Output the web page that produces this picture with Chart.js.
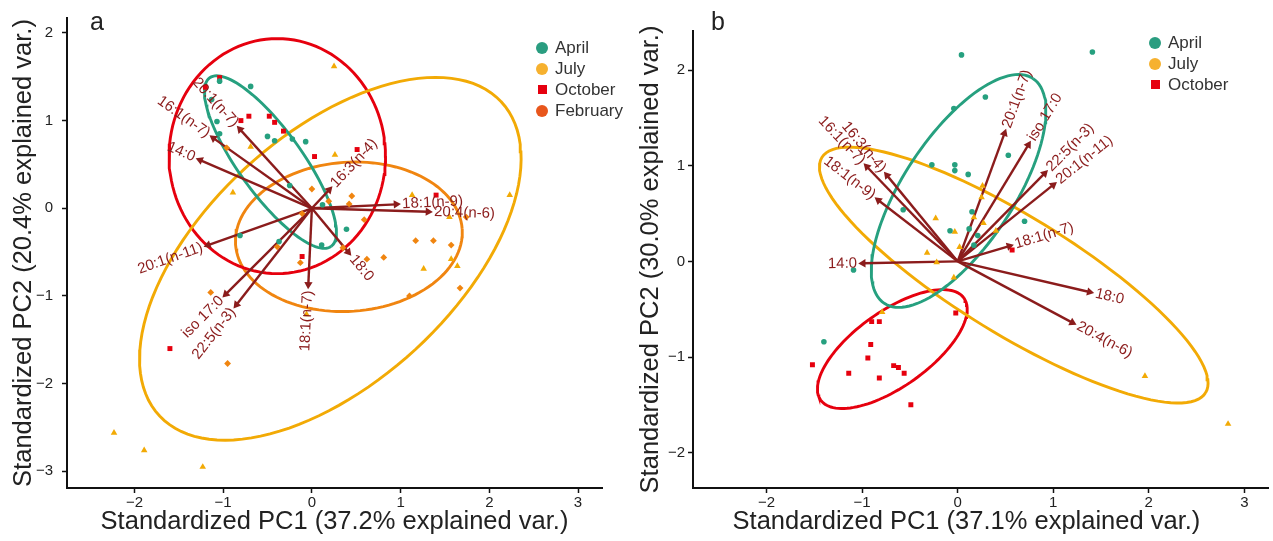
<!DOCTYPE html>
<html>
<head>
<meta charset="utf-8">
<script src="https://cdn.jsdelivr.net/npm/chart.js@4.4.1/dist/chart.umd.min.js"></script>
<style>
  body { margin: 0; background: #fff; font-family: "Liberation Sans", Arial, Helvetica, sans-serif; }
  #wrap { position: relative; width: 1273px; height: 541px; overflow: hidden; }
  canvas { position: absolute; top: 0; }
  #chartA { left: 0; }
  #chartB { left: 636px; }
  .tag { position: absolute; top: 9px; font-size: 25px; line-height: 25px; color: #222; }
  .legend { position: absolute; font-size: 17px; color: #333; }
  .legend .item { position: relative; height: 21px; line-height: 21px; padding-left: 19px; white-space: nowrap; }
  .legend .sym { position: absolute; left: 0; top: 4.5px; width: 12px; height: 12px; border-radius: 50%; }
  .legend .sq { left: 1.5px; top: 6px; width: 9px; height: 9px; border-radius: 0; }
</style>
</head>
<body>
<div id="wrap">
  <canvas id="chartA" width="636" height="541"></canvas>
  <canvas id="chartB" width="637" height="541"></canvas>
  <div class="tag" style="left:90px">a</div>
  <div class="tag" style="left:711px">b</div>
  <div class="legend" style="left:536px; top:37px">
    <div class="item"><span class="sym" style="background:#2a9d80"></span>April</div>
    <div class="item"><span class="sym" style="background:#f6b12f"></span>July</div>
    <div class="item"><span class="sym sq" style="background:#e6000f"></span>October</div>
    <div class="item"><span class="sym" style="background:#e8561c"></span>February</div>
  </div>
  <div class="legend" style="left:1149px; top:32px">
    <div class="item"><span class="sym" style="background:#2a9d80"></span>April</div>
    <div class="item"><span class="sym" style="background:#f6b12f"></span>July</div>
    <div class="item"><span class="sym sq" style="background:#e6000f"></span>October</div>
  </div>
</div>
<script>
const fontFamily = '"Liberation Sans", Arial, Helvetica, sans-serif';

// ---- panel a: scores ----
const aprilA = [[-1.04,1.45],[-0.69,1.39],[-1.13,1.24],[-1.07,0.99],[-1.04,0.85],[-0.50,0.82],[-0.42,0.77],
  [-0.22,0.79],[-0.07,0.76],[-0.25,0.26],[0.12,0.04],[0.39,-0.24],[-0.81,-0.31],[-0.37,-0.38],[0.11,-0.42]];
const julyA = [[0.25,1.62],[-0.69,0.70],[0.26,0.61],[-0.89,0.18],[1.13,0.15],[2.23,0.15],[1.55,-0.10],
  [-0.06,-1.21],[-2.23,-2.56],[-1.89,-2.76],[-1.23,-2.95],[1.26,-0.69],[1.57,-0.58],[1.64,-0.66]];
const octoberA = [[-1.04,1.49],[-1.20,1.38],[-0.80,1.00],[-0.71,1.05],[-0.48,1.05],[-0.42,0.98],[-0.32,0.88],
  [0.03,0.59],[0.51,0.67],[1.40,0.15],[-0.11,-0.55],[-1.60,-1.60]];
const februaryA = [[-0.96,0.69],[0.00,0.22],[0.45,0.14],[0.19,0.08],[0.42,0.05],[-0.11,-0.06],[0.35,-0.45],
  [0.59,-0.13],[1.17,-0.37],[1.37,-0.37],[1.57,-0.42],[1.74,-0.10],[-0.39,-0.44],[-0.13,-0.62],[-1.14,-0.96],
  [-0.95,-1.77],[0.62,-0.58],[0.81,-0.56],[1.10,-1.00],[1.67,-0.91]];

// panel a: loadings
const varNamesA = ["20:1(n-7)","16:1(n-7)","14:0","20:1(n-11)","iso 17:0","22:5(n-3)","18:1(n-7)","18:0","18:1(n-9)","20:4(n-6)","16:3(n-4)"];
const varXA = [-0.81,-1.11,-1.26,-1.17,-0.97,-0.85,-0.04,0.41,0.95,1.31,0.195];
const varYA = [0.90,0.80,0.55,-0.42,-0.98,-1.10,-0.87,-0.50,0.045,-0.04,0.21];

// panel a: ellipses [centre x, centre y, semi-axis 1, semi-axis 2, angle deg]
const ellAprilA = [-0.467, 0.527, 1.18, 0.36, -54.6];
const ellJulyA = [0.208, -0.576, 2.63, 1.41, 43];
const ellOctoberA = [-0.39, 0.595, 1.22, 1.34, 0];
const ellFebruaryA = [0.417, -0.325, 1.28, 0.85, 4];

// ---- panel b: scores ----
const aprilB = [[0.04,2.16],[1.41,2.19],[0.29,1.72],[-0.04,1.60],[-0.27,1.01],[-0.03,1.01],[-0.03,0.95],
  [0.11,0.91],[0.53,1.11],[-0.57,0.54],[0.15,0.52],[0.70,0.42],[-0.08,0.32],[0.12,0.34],[0.21,0.27],
  [0.17,0.17],[-1.09,-0.09],[-1.40,-0.84]];
const julyB = [[-0.23,0.45],[-0.03,0.31],[0.17,0.46],[0.26,0.79],[0.25,0.67],[0.27,0.40],[0.40,0.32],
  [0.02,0.15],[-0.32,0.09],[-0.22,-0.01],[-0.04,-0.17],[-0.79,-0.53],[1.96,-1.20],[2.83,-1.70]];
const octoberB = [[0.57,0.12],[-0.02,-0.54],[-0.90,-0.63],[-0.82,-0.63],[-0.91,-0.87],[-0.94,-1.01],
  [-1.52,-1.08],[-1.14,-1.17],[-0.82,-1.22],[-0.67,-1.09],[-0.62,-1.11],[-0.56,-1.17],[-0.49,-1.50]];

// panel b: loadings
const varNamesB = ["20:1(n-7)","iso 17:0","22:5(n-3)","20:1(n-11)","18:1(n-7)","18:0","20:4(n-6)","14:0","16:1(n-7)","16:3(n-4)","18:1(n-9)"];
const varXB = [0.49,0.74,0.91,1.00,0.54,1.38,1.20,-0.99,-0.95,-0.74,-0.83];
const varYB = [1.34,1.22,0.92,0.80,0.16,-0.32,-0.64,-0.02,0.99,0.90,0.64];

// panel b: ellipses
const ellAprilB = [0.01, 0.737, 1.41, 0.575, 56.5];
const ellJulyB = [0.587, -0.143, 2.355, 0.617, -31.5];
const ellOctoberB = [-0.684, -0.917, 0.92, 0.393, 35.4];

const teal = "#26a07f", yellow = "#f2aa05", red = "#e6000e", orange = "#f08510", arrowCol = "#8b1c1c";

function toXY(list) {
    return list.map(p => ({ x: p[0], y: p[1] }));
}

function ellipseOutline(e) {
    const pts = [];
    const phi = e[4] * Math.PI / 180;
    for (let i = 0; i <= 120; i++) {
        const t = i / 120 * 2 * Math.PI;
        const u = e[2] * Math.cos(t), v = e[3] * Math.sin(t);
        pts.push({ x: e[0] + u * Math.cos(phi) - v * Math.sin(phi), y: e[1] + u * Math.sin(phi) + v * Math.cos(phi) });
    }
    return pts;
}

function pointSet(list, color, style, radius) {
    return { data: toXY(list), backgroundColor: color, borderColor: color, borderWidth: 0,
        pointStyle: style, pointRadius: radius, order: 0 };
}

function ellipseSet(e, color) {
    return { data: ellipseOutline(e), showLine: true, borderColor: color, borderWidth: 2.9,
        pointRadius: 0, tension: 0, fill: false, order: 2 };
}

function arrowSets(xs, ys) {
    return xs.map((x, i) => ({
        data: [{ x: 0, y: 0 }, { x: x, y: ys[i] }],
        showLine: true, borderColor: arrowCol, borderWidth: 2.4, order: 1,
        pointRadius: [0, 4.8], pointStyle: "triangle",
        backgroundColor: arrowCol, pointBorderWidth: 0,
        pointRotation: function (ctx) {
            const sx = ctx.chart.scales.x, sy = ctx.chart.scales.y;
            const dx = sx.getPixelForValue(x) - sx.getPixelForValue(0);
            const dy = sy.getPixelForValue(ys[i]) - sy.getPixelForValue(0);
            return Math.atan2(dx, -dy) * 180 / Math.PI;
        }
    }));
}

const arrowLabels = {
    id: "arrowLabels",
    afterDatasetsDraw(chart, args, opts) {
        const c = chart.ctx, sx = chart.scales.x, sy = chart.scales.y;
        const x0 = sx.getPixelForValue(0), y0 = sy.getPixelForValue(0);
        c.save();
        c.font = "15px " + fontFamily;
        c.fillStyle = arrowCol;
        c.textBaseline = "middle";
        opts.names.forEach((name, i) => {
            const px = sx.getPixelForValue(opts.xs[i]), py = sy.getPixelForValue(opts.ys[i]);
            const dx = px - x0, dy = y0 - py;
            const ang = Math.atan(dy / dx);
            c.save();
            c.translate(px, py);
            c.rotate(-ang);
            if (dx >= 0) { c.textAlign = "left"; c.fillText(name, 6, 0); }
            else { c.textAlign = "right"; c.fillText(name, -6, 0); }
            c.restore();
        });
        c.restore();
    }
};

function tickText(v) {
    return v < 0 ? "\u2212" + Math.abs(v) : String(v);
}

function axis(min, max, title, isY, size, titlePad, tickPad) {
    return {
        type: "linear", min: min, max: max,
        afterFit: function (s) { if (isY) s.width = size; else s.height = size; },
        ticks: { stepSize: 1, includeBounds: false, autoSkip: false, padding: tickPad,
            color: "#222", font: { size: 15, family: fontFamily }, callback: tickText },
        grid: { drawOnChartArea: false, drawTicks: true, tickLength: 5, tickColor: "#111", tickWidth: 1.5 },
        border: { display: true, color: "#111", width: 2 },
        title: { display: true, text: title, color: "#222", font: { size: 25.5, family: fontFamily, lineHeight: 1.2 },
            padding: titlePad }
    };
}

function makeChart(id, datasets, labels, opt) {
    return new Chart(document.getElementById(id), {
        type: "scatter",
        data: { datasets: datasets },
        options: {
            responsive: false, animation: false, events: [],
            layout: { padding: { left: 0, top: opt.padTop, right: opt.padRight, bottom: 0 } },
            plugins: { legend: { display: false }, tooltip: { enabled: false }, arrowLabels: labels },
            scales: {
                x: axis(opt.xMin, opt.xMax, opt.xTitle, false, 53, { top: 0, bottom: 4 }, 1),
                y: axis(opt.yMin, opt.yMax, opt.yTitle, true, opt.yWidth, { top: opt.yTitlePad, bottom: 0 }, opt.yTickPad)
            }
        },
        plugins: [arrowLabels]
    });
}

makeChart("chartA", [
    pointSet(aprilA, teal, "circle", 2.8),
    pointSet(julyA, yellow, "triangle", 3.8),
    pointSet(octoberA, red, "rect", 3.5),
    pointSet(februaryA, orange, "rectRot", 3.4),
    ...arrowSets(varXA, varYA),
    ellipseSet(ellAprilA, teal),
    ellipseSet(ellJulyA, yellow),
    ellipseSet(ellOctoberA, red),
    ellipseSet(ellFebruaryA, orange)
], { names: varNamesA, xs: varXA, ys: varYA }, {
    xMin: -2.76, xMax: 3.27, yMin: -3.19, yMax: 2.17, padTop: 13, padRight: 34, yWidth: 67, yTitlePad: 9, yTickPad: 9,
    xTitle: "Standardized PC1 (37.2% explained var.)", yTitle: "Standardized PC2 (20.4% explained var.)"
});

makeChart("chartB", [
    pointSet(aprilB, teal, "circle", 2.8),
    pointSet(julyB, yellow, "triangle", 3.8),
    pointSet(octoberB, red, "rect", 3.5),
    ...arrowSets(varXB, varYB),
    ellipseSet(ellAprilB, teal),
    ellipseSet(ellJulyB, yellow),
    ellipseSet(ellOctoberB, red)
], { names: varNamesB, xs: varXB, ys: varYB }, {
    xMin: -2.77, xMax: 3.25, yMin: -2.37, yMax: 2.41, padTop: 31, padRight: 3, yWidth: 57, yTitlePad: 0, yTickPad: 3,
    xTitle: "Standardized PC1 (37.1% explained var.)\u00a0\u00a0\u00a0\u00a0",
    yTitle: "Standardized PC2 (30.0% explained var.)"
});
</script>
</body>
</html>
